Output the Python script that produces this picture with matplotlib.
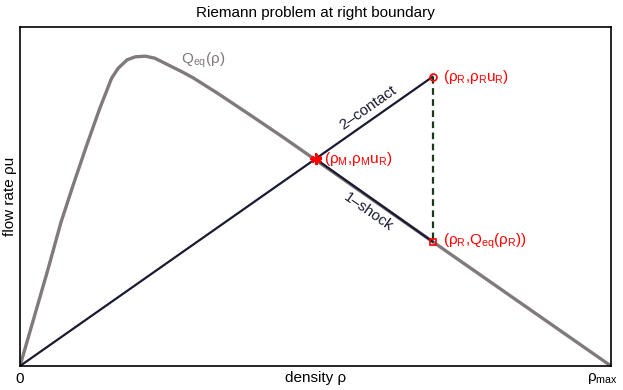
import matplotlib
matplotlib.use('Agg')
import matplotlib.pyplot as plt

plt.rcParams['font.family'] = ['Liberation Sans', 'DejaVu Sans']
plt.rcParams['mathtext.fontset'] = 'custom'
plt.rcParams['mathtext.rm'] = 'Liberation Sans'
plt.rcParams['mathtext.it'] = 'Liberation Sans'

# Gleichgewichtsfluss Q_eq(rho)
rho = [0.0, 0.047, 0.069, 0.090, 0.113, 0.135, 0.155, 0.166, 0.181, 0.195,
       0.212, 0.228, 0.251, 0.274, 0.293, 0.333, 0.389, 0.445, 0.500, 0.698, 1.0]
q_eq = [0.0, 0.283, 0.422, 0.534, 0.652, 0.760, 0.849, 0.878, 0.903, 0.912,
        0.914, 0.908, 0.888, 0.868, 0.850, 0.806, 0.741, 0.675, 0.608, 0.367, 0.0]

rho_M = 0.5
rho_R = 0.698
u_R = 1.222
q_R = 0.367

fig = plt.figure(figsize=(6.23, 3.9), dpi=100)
ax = fig.add_axes([20/623, 24/390, 591/623, 339/390])

red = (1, 0, 0)
navy = (0.1, 0.1, 0.2)
gray = (0.5, 0.48, 0.48)

ax.plot(rho, q_eq, color=gray, lw=2.4, solid_capstyle='round', solid_joinstyle='round')
# 2-contact: Gerade durch den Ursprung
ax.plot([0, rho_R], [0, rho_R * u_R], color=navy, lw=1.6)
# 1-shock
ax.plot([rho_M, rho_R], [rho_M * u_R, q_R], color=navy, lw=1.6)
ax.plot([rho_R, rho_R], [rho_R * u_R, q_R], color=(0.1, 0.22, 0.1), lw=1.6, ls=(0, (3, 2)))

ax.plot(rho_R, rho_R * u_R, 'o', mfc='none', mec=red, ms=5, mew=1.2)
ax.plot(rho_M, rho_M * u_R, marker=(6, 2, 0), color=red, ms=8, mew=1.6)
ax.plot(rho_M, rho_M * u_R, '+', color=red, ms=8, mew=1.6)
ax.plot(rho_R, q_R, 's', mfc='none', mec=red, ms=5, mew=1.2)

fs = 11
ax.text(0.273, 0.902, r'Q$_{\mathregular{eq}}$(ρ)', color=gray, fontsize=fs, va='center')
ax.text(rho_R + 0.017, rho_R * u_R, r'(ρ$_{\mathregular{R}}$,ρ$_{\mathregular{R}}$u$_{\mathregular{R}}$)',
        color=red, fontsize=fs, va='center')
ax.text(rho_M + 0.014, rho_M * u_R, r'(ρ$_{\mathregular{M}}$,ρ$_{\mathregular{M}}$u$_{\mathregular{R}}$)',
        color=red, fontsize=fs, va='center')
ax.text(rho_R + 0.017, q_R, r'(ρ$_{\mathregular{R}}$,Q$_{\mathregular{eq}}$(ρ$_{\mathregular{R}}$))',
        color=red, fontsize=fs, va='center')
ax.text(0.589, 0.762, '2–contact', color=navy, fontsize=fs, rotation=35,
        ha='center', va='center', rotation_mode='anchor')
ax.text(0.589, 0.455, '1–shock', color=navy, fontsize=fs, rotation=-35,
        ha='center', va='center', rotation_mode='anchor')

ax.set_xlim(0, 1)
ax.set_ylim(0, 1)
ax.set_xticks([0, 1])
ax.set_xticklabels(['0', ''], fontsize=fs)
# rho_max etwas nach links, damit es nicht abgeschnitten wird
ax.text(0.986, -0.016, r'ρ$_{\mathregular{max}}$', fontsize=fs, ha='center', va='top',
        transform=ax.transAxes)
ax.set_yticks([])
ax.tick_params(axis='x', length=0, pad=4)
ax.set_xlabel('density ρ', fontsize=fs)
ax.xaxis.set_label_coords(0.5, -0.016)
ax.set_ylabel('flow rate ρu', fontsize=fs)
ax.yaxis.set_label_coords(-0.005, 0.5)
ax.set_title('Riemann problem at right boundary', fontsize=fs, pad=7)
for s in ax.spines.values():
    s.set_linewidth(1.2)

fig.savefig('out.png', dpi=100)
